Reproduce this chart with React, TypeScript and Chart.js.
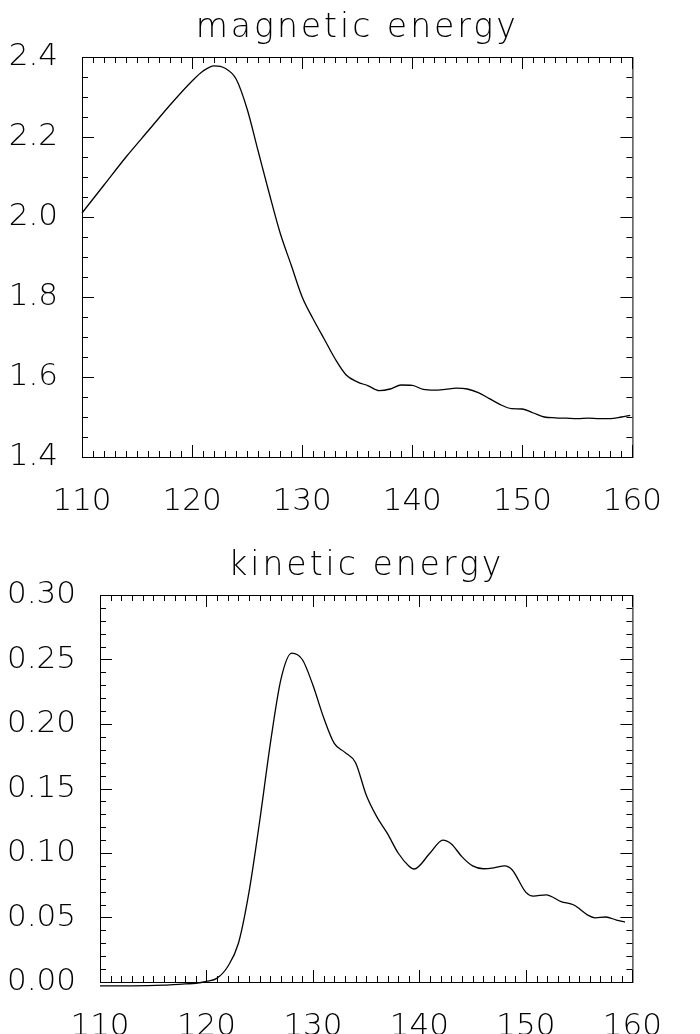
import React, { useEffect, useRef } from "react";
import { Chart, registerables } from "chart.js";
Chart.register(...registerables);

const magX = [110,112,114,116,118,120,121,122,123,124,125,126,127,128,129,130,131,132,133,134,135,136,137,138,139,140,141,142,143,144,145,146,147,148,149,150,151,152,153,154,155,156,157,158,159,159.8];
const magY = [2.01,2.08,2.15,2.215,2.28,2.34,2.365,2.378,2.372,2.345,2.27,2.165,2.06,1.96,1.88,1.80,1.745,1.695,1.645,1.605,1.588,1.578,1.566,1.57,1.58,1.579,1.569,1.567,1.569,1.572,1.57,1.561,1.546,1.531,1.521,1.52,1.51,1.5,1.498,1.497,1.496,1.497,1.496,1.496,1.5,1.504];
const kinX = [110,113,116,118,119,120,121,122,123,124,125,126,127,128,129,130,131,132,133,134,135,136,137,138,139,139.5,141,142.2,143,144,145,146,147,148,148.7,150,150.7,151.9,153.3,154.5,155.9,156.5,157.5,158.5,159.3];
const kinY = [-0.003,-0.003,-0.0025,-0.0015,-0.001,0.0005,0.003,0.012,0.03,0.07,0.125,0.185,0.235,0.255,0.25,0.23,0.205,0.185,0.178,0.17,0.145,0.128,0.115,0.1,0.09,0.0876,0.1,0.11,0.107,0.097,0.09,0.0878,0.0885,0.09,0.087,0.0695,0.0666,0.0676,0.0623,0.0597,0.0514,0.0497,0.0504,0.048,0.0465];
const xTicks = [110, 120, 130, 140, 150, 160];
const magTicks = [1.4, 1.6, 1.8, 2.0, 2.2, 2.4];
const kinTicks = [0, 0.05, 0.1, 0.15, 0.2, 0.25, 0.3];

const FONT = "DejaVu Sans";
const WEIGHT = "200";

function tickPlugin(yMinorStep: number, yMajor: number[]) {
  return {
    id: "idlTicks",
    afterDraw(chart: any) {
      const { ctx, chartArea: a, scales } = chart;
      const xs = scales.x, ys = scales.y;
      ctx.save();
      ctx.strokeStyle = "#000";
      ctx.lineWidth = 1;
      ctx.beginPath();
      const maj = 12, min = 6;
      for (let v = 110; v <= 160 + 1e-9; v += 1) {
        const px = Math.round(xs.getPixelForValue(v)) + 0.5;
        const L = Math.abs(v % 10) < 1e-6 ? maj : min;
        ctx.moveTo(px, a.bottom); ctx.lineTo(px, a.bottom - L);
        ctx.moveTo(px, a.top); ctx.lineTo(px, a.top + L);
      }
      const start = Math.ceil(ys.min / yMinorStep - 1e-6) * yMinorStep;
      for (let v = start; v <= ys.max + 1e-9; v += yMinorStep) {
        const py = Math.round(ys.getPixelForValue(v)) + 0.5;
        const L = yMajor.some((m) => Math.abs(m - v) < 1e-6) ? maj : min;
        ctx.moveTo(a.left, py); ctx.lineTo(a.left + L, py);
        ctx.moveTo(a.right, py); ctx.lineTo(a.right - L, py);
      }
      ctx.stroke();
      ctx.strokeRect(a.left + 0.5, a.top + 0.5, a.right - a.left, a.bottom - a.top);
      ctx.restore();
    },
  };
}

function Panel(props: { xs: number[]; ys: number[]; title: string; yMin: number; yMax: number; yTicks: number[]; minor: number; dec: number; left: number; top: number; height: number }) {
  const ref = useRef<HTMLCanvasElement>(null);
  useEffect(() => {
    const c = new Chart(ref.current!, {
      type: "line",
      data: { datasets: [{ data: props.xs.map((x, i) => ({ x, y: props.ys[i] })), borderColor: "#000", borderWidth: 1.3, pointRadius: 0, cubicInterpolationMode: "monotone", clip: false }] },
      options: {
        animation: false, responsive: false, devicePixelRatio: 1,
        layout: { padding: { top: props.top, right: 0, left: 0, bottom: 0 } },
        plugins: { legend: { display: false }, tooltip: { enabled: false }, title: { display: false } },
        scales: {
          x: {
            type: "linear", min: 110, max: 160,
            grid: { display: false }, border: { display: false },
            afterBuildTicks: (s: any) => { s.ticks = xTicks.map((v) => ({ value: v })); },
            ticks: { padding: 18, color: "#000", maxRotation: 0, autoSkip: false, font: { family: FONT, size: 31, weight: WEIGHT } },
            afterFit: (s: any) => { s.height = 66; },
          },
          y: {
            min: props.yMin, max: props.yMax,
            grid: { display: false }, border: { display: false },
            afterBuildTicks: (s: any) => { s.ticks = props.yTicks.map((v) => ({ value: v })); },
            ticks: { padding: 16, color: "#000", autoSkip: false, font: { family: FONT, size: 31, weight: WEIGHT }, callback: (v: any) => Number(v).toFixed(props.dec) },
            afterFit: (s: any) => { s.width = props.left; },
          },
        },
      },
      plugins: [tickPlugin(props.minor, props.yTicks), {
        id: "ttl",
        afterDraw(chart: any) {
          const { ctx, chartArea: a } = chart;
          ctx.save();
          ctx.fillStyle = "#000";
          ctx.font = `${WEIGHT} 33px "${FONT}"`;
          (ctx as any).letterSpacing = "3px";
          ctx.textAlign = "center";
          ctx.textBaseline = "alphabetic";
          ctx.fillText(props.title, (a.left + a.right) / 2, a.top - 20);
          ctx.restore();
        },
      }],
    } as any);
    return () => c.destroy();
  }, []);
  return <canvas ref={ref} width={680} height={props.height} style={{ display: "block" }} />;
}

export default function App() {
  return (
    <div style={{ position: "absolute", left: 0, top: 0, width: 700, height: 1034, background: "#fff", overflow: "hidden" }}>
      <div style={{ position: "absolute", left: 0, top: 0 }}>
        <Panel xs={magX} ys={magY} title="magnetic energy" yMin={1.4} yMax={2.4} yTicks={magTicks} minor={0.05} dec={1} left={82} top={57} height={523} />
      </div>
      <div style={{ position: "absolute", left: 0, top: 514 }}>
        <Panel xs={kinX} ys={kinY} title="kinetic energy" yMin={0} yMax={0.3} yTicks={kinTicks} minor={0.01} dec={2} left={100} top={81} height={534} />
      </div>
    </div>
  );
}
